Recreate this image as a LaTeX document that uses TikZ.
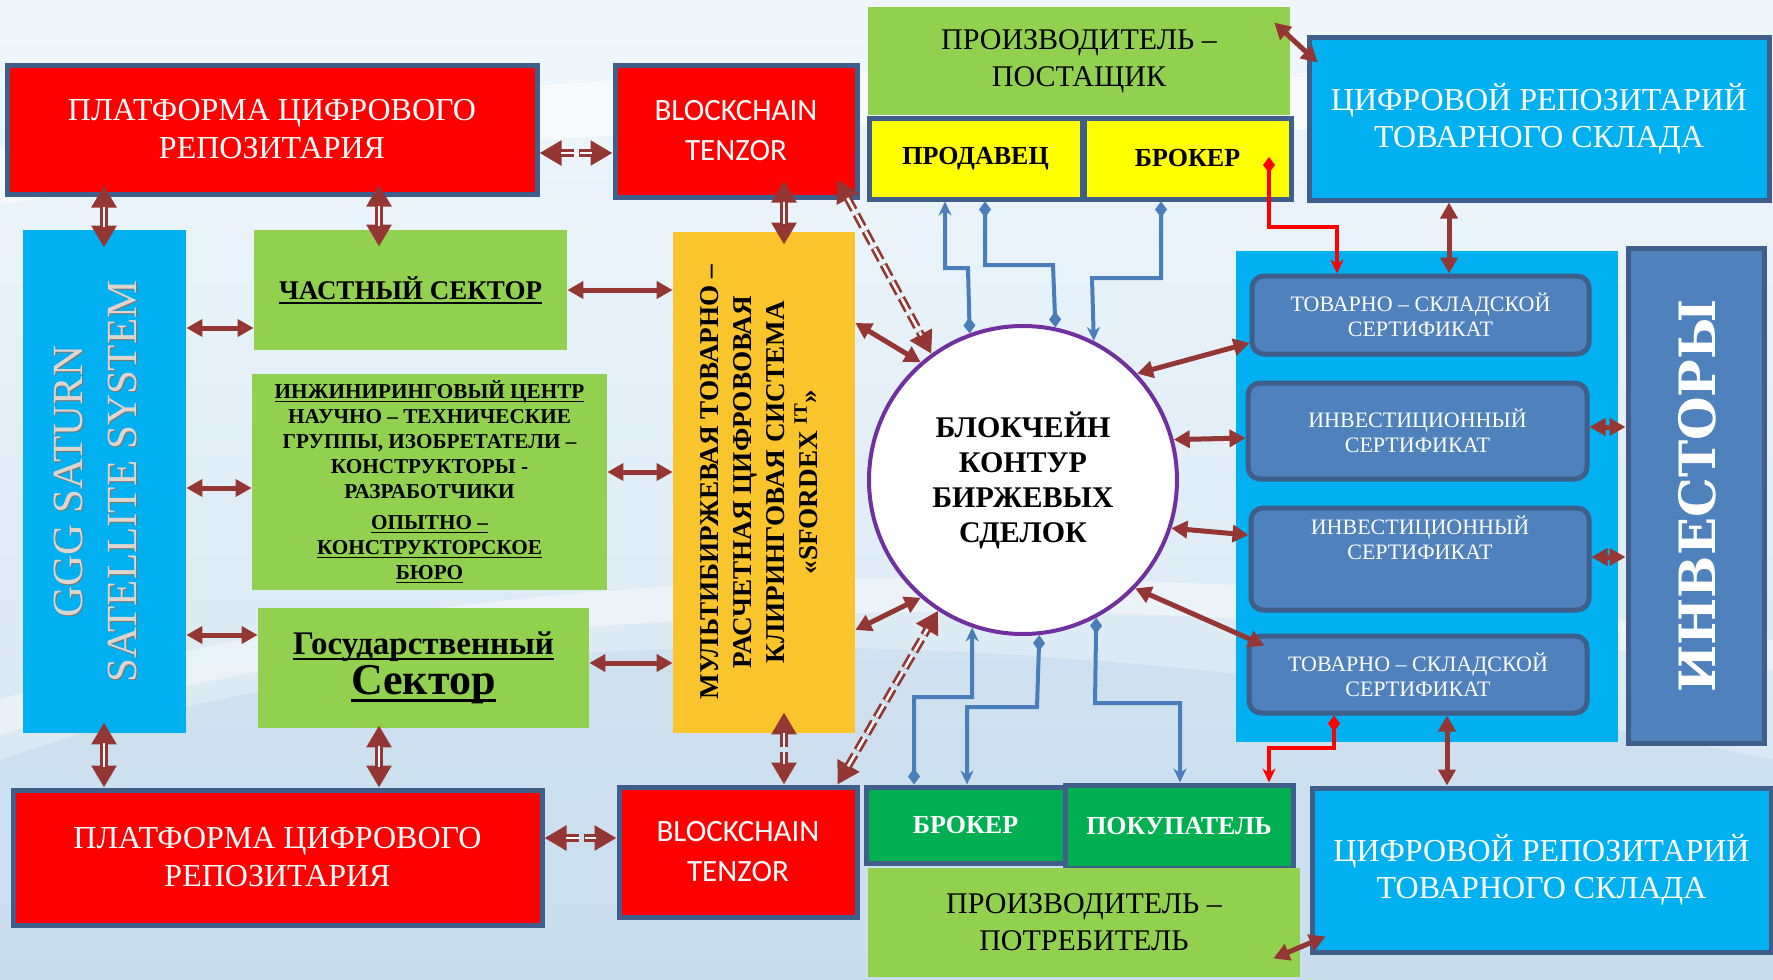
\documentclass[tikz,border=0pt]{standalone}
\usepackage{fontspec}
\setmainfont{Liberation Serif}
\newfontfamily\carl{Carlito}
\newfontfamily\slabf{DejaVu Serif}
\usetikzlibrary{arrows.meta,calc}
\definecolor{ac}{HTML}{943634}
\definecolor{redc}{HTML}{FF0000}
\definecolor{bord}{HTML}{3F5F8A}
\definecolor{skyc}{HTML}{00B0F0}
\definecolor{grc}{HTML}{92D050}
\definecolor{goldc}{HTML}{F9C42C}
\definecolor{yelc}{HTML}{FFFF00}
\definecolor{dgrc}{HTML}{00B050}
\definecolor{certc}{HTML}{4F81BD}
\definecolor{blc}{HTML}{4A7EBB}
\definecolor{purp}{HTML}{7030A0}
\definecolor{gggc}{HTML}{DDD5CE}
\definecolor{gggs}{HTML}{7F7770}
\definecolor{bgtop}{HTML}{F0F7FC}
\definecolor{bgbot}{HTML}{D3E4F1}
\definecolor{bgdark}{HTML}{B9D2E8}
\newcommand\myul[1]{\setbox0\hbox{#1}\rlap{\rule[-0.17em]{\wd0}{0.07em}}\box0}
\newcommand\dblar[3][]{\draw[dblo,#1] #2 -- #3; \draw[dbli,#1] #2 -- #3;}
\tikzset{
  dia/.tip={Diamond[length=8pt,width=6pt]},
  stl/.tip={Stealth[length=7pt,width=6.5pt]},
  box/.style={draw=bord, line width=2.5pt, inner sep=0pt, align=center},
  plain/.style={inner sep=0pt, align=center},
  cert/.style={box, rounded corners=6pt, fill=certc, text=white, font=\fontsize{11}{12.5}\selectfont},
  sarr/.style={draw=ac, line width=2.5pt, {Triangle[length=8pt,width=8.5pt]}-{Triangle[length=8pt,width=8.5pt]}},
  dblo/.style={draw=ac, line width=4pt, {Triangle[length=11pt,width=12pt]}-{Triangle[length=11pt,width=12pt]}},
  dbli/.style={draw=white, line width=1.3pt, shorten <=10.5pt, shorten >=10.5pt},
  dsh/.style={dash pattern=on 7pt off 2.5pt},
  bl/.style={draw=blc, line width=2pt},
  rd/.style={draw=redc, line width=2pt}
}
\begin{document}
\begin{tikzpicture}[x=0.5pt,y=-0.5pt]
\useasboundingbox (0,0) rectangle (1773,980);
% background
\shade[top color=bgtop, bottom color=bgbot] (0,0) rectangle (1773,980);
\fill[white, opacity=0.55] (0,150) .. controls (500,60) and (1200,40) .. (1773,120) -- (1773,170) .. controls (1200,95) and (500,115) .. (0,205) -- cycle;
\fill[bgdark, opacity=0.35] (0,980) -- (0,760) .. controls (400,620) and (1000,600) .. (1773,760) -- (1773,980) -- cycle;
\fill[white, opacity=0.4] (0,700) .. controls (450,560) and (1100,540) .. (1773,640) -- (1773,670) .. controls (1100,575) and (450,595) .. (0,735) -- cycle;

% left column
\node[box, fill=redc, minimum width=265pt, minimum height=64.5pt, text=white, font=\fontsize{16}{19}\selectfont] (plat1) at (272,129.5) {ПЛАТФОРМА ЦИФРОВОГО\\РЕПОЗИТАРИЯ};
\node[box, fill=redc, minimum width=121pt, minimum height=66pt, text=white, font=\carl\fontsize{15.5}{20}\selectfont] (bc1) at (736,131) {BLOCKCHAIN\\TENZOR};
\node[plain, fill=skyc, minimum width=81.5pt, minimum height=251.5pt] (ggg) at (104.5,481.5) {};
\node[plain, rotate=90, text=gggs, font=\fontsize{21.5}{27}\selectfont] (gggsh) at (96.5,482.5) {GGG SATURN\\SATELLITE SYSTEM};
\node[plain, rotate=90, text=gggc, font=\fontsize{21.5}{27}\selectfont] (gggt) at (95,481.5) {GGG SATURN\\SATELLITE SYSTEM};
\node[plain, fill=grc, minimum width=156.5pt, minimum height=60pt, font=\bfseries\fontsize{13.5}{16}\selectfont] (chast) at (410.5,290) {\myul{ЧАСТНЫЙ СЕКТОР}};
\node[plain, fill=grc, minimum width=177.5pt, minimum height=108pt, font=\bfseries\fontsize{10.6}{12.5}\selectfont] (eng) at (429.5,482) {\myul{ИНЖИНИРИНГОВЫЙ ЦЕНТР}\\НАУЧНО – ТЕХНИЧЕСКИЕ\\ГРУППЫ, ИЗОБРЕТАТЕЛИ –\\КОНСТРУКТОРЫ -\\РАЗРАБОТЧИКИ\\[3pt]\myul{ОПЫТНО –}\\\myul{КОНСТРУКТОРСКОЕ}\\\myul{БЮРО}};
\node[plain, fill=grc, minimum width=165.5pt, minimum height=60pt, font=\bfseries] (gos) at (423.5,668) {\fontsize{16.5}{19}\selectfont\myul{Государственный}\\[1pt]\fontsize{22}{24}\selectfont\myul{Сектор}};
\node[plain, fill=goldc, minimum width=91pt, minimum height=250.5pt] (sfx) at (764,482.5) {};
\node[plain, rotate=90, font=\bfseries\fontsize{13.6}{16.5}\selectfont] (sfxt) at (759,482) {МУЛЬТИБИРЖЕВАЯ ТОВАРНО –\\РАСЧЕТНАЯ ЦИФРОВОВАЯ\\КЛИРИНГОВАЯ СИСТЕМА\\«SFORDEX \textsuperscript{IT}»};
\node[box, fill=redc, minimum width=264.5pt, minimum height=67.5pt, text=white, font=\fontsize{16}{19}\selectfont] (plat2) at (277.5,857.5) {ПЛАТФОРМА ЦИФРОВОГО\\РЕПОЗИТАРИЯ};
\node[box, fill=redc, minimum width=119pt, minimum height=65pt, text=white, font=\carl\fontsize{15.5}{20}\selectfont] (bc2) at (738,852) {BLOCKCHAIN\\TENZOR};

% top right
\node[plain, fill=grc, minimum width=211pt, minimum height=54pt, font=\fontsize{15}{18.5}\selectfont] (prod) at (1079,61) {ПРОИЗВОДИТЕЛЬ –\\ПОСТАЩИК};
\node[box, fill=yelc, minimum width=106.5pt, minimum height=40.5pt, font=\bfseries\fontsize{13}{15}\selectfont] (seller) at (975.5,158.5) {ПРОДАВЕЦ};
\node[box, fill=yelc, minimum width=103.5pt, minimum height=40.5pt, font=\bfseries\fontsize{13}{15}\selectfont] (brok1) at (1187.5,158.5) {БРОКЕР};
\node[box, fill=skyc, minimum width=230pt, minimum height=81.5pt, text=white, font=\fontsize{16}{18.5}\selectfont] (repo1) at (1539,118.5) {ЦИФРОВОЙ РЕПОЗИТАРИЙ\\ТОВАРНОГО СКЛАДА};

% right side
\node[plain, fill=skyc, minimum width=191pt, minimum height=245.5pt] (cont) at (1427,496.5) {};
\node[box, fill=certc, minimum width=68pt, minimum height=247.5pt] (inv) at (1696,495.5) {};
\node[plain, rotate=90, text=white, font=\slabf\bfseries\fontsize{25}{25}\selectfont] (invt) at (1697,496) {ИНВЕСТОРЫ};
\node[cert, minimum width=168.5pt, minimum height=39pt] (c1) at (1420.5,315) {ТОВАРНО – СКЛАДСКОЙ\\СЕРТИФИКАТ};
\node[cert, minimum width=169.5pt, minimum height=48pt] (c2) at (1417.5,431) {ИНВЕСТИЦИОННЫЙ\\СЕРТИФИКАТ};
\node[cert, minimum width=169pt, minimum height=51pt] (c3) at (1420,559) {ИНВЕСТИЦИОННЫЙ\\СЕРТИФИКАТ\\[9pt]};
\node[cert, minimum width=169pt, minimum height=38.5pt] (c4) at (1418,674.5) {ТОВАРНО – СКЛАДСКОЙ\\СЕРТИФИКАТ};

% bottom right
\node[box, fill=dgrc, minimum width=99.5pt, minimum height=38pt, text=white, font=\bfseries\fontsize{13}{15}\selectfont] (brok2) at (965.5,825) {БРОКЕР};
\node[box, fill=dgrc, minimum width=114pt, minimum height=41.5pt, text=white, font=\bfseries\fontsize{13}{15}\selectfont] (buyer) at (1179,826.5) {ПОКУПАТЕЛЬ};
\node[plain, fill=grc, minimum width=216pt, minimum height=54.5pt, font=\fontsize{15}{18.5}\selectfont] (cons) at (1084,922.5) {ПРОИЗВОДИТЕЛЬ –\\ПОТРЕБИТЕЛЬ};
\node[box, fill=skyc, minimum width=229.5pt, minimum height=82pt, text=white, font=\fontsize{16}{18.5}\selectfont] (repo2) at (1541.5,870) {ЦИФРОВОЙ РЕПОЗИТАРИЙ\\ТОВАРНОГО СКЛАДА};

% circle
\node[circle, draw=purp, line width=2pt, fill=white, minimum size=154pt, inner sep=0pt, align=center, font=\bfseries\fontsize{15}{17.5}\selectfont] (circ) at (1023,480) {БЛОКЧЕЙН\\КОНТУР\\БИРЖЕВЫХ\\СДЕЛОК};

% blue connectors
\draw[bl, {dia}-{stl}] (circ.110.9) -- (968,268) -- (945,268) -- (945,0 |- seller.south);
\draw[bl, {dia}-{dia}] (985,0 |- seller.south) -- (985,265) -- (1053,265) -- (circ.78.8);
\draw[bl, {dia}-{stl}] (1161,0 |- brok1.south) -- (1161,278) -- (1092,278) -- (circ.63.4);
\draw[bl, {stl}-{dia}] (circ.-109.3) -- (972,697) -- (914,697) -- (914,0 |- brok2.north);
\draw[bl, {dia}-{stl}] (circ.-84.8) -- (1037,707) -- (967,707) -- (967,0 |- brok2.north);
\draw[bl, {dia}-{stl}] (circ.-62.1) -- (1095,703) -- (1180,703) -- (1180,0 |- buyer.north);

% red connectors
\coordinate (r1s) at (1269,157);
\draw[rd, {dia}-{stl}] (r1s) -- (1269,227) -- (1337,227) -- (1337,0 |- c1.north);
\draw[rd, {dia}-{stl}] (1334,0 |- c4.south) -- (1334,748) -- (1269,748) -- (1269,0 |- buyer.north);

% double arrows
\dblar{($(104,0 |- plat1.south)+(0,-11)$)}{($(104,0 |- ggg.north)+(0,18)$)}
\dblar{($(379,0 |- plat1.south)+(0,-12)$)}{($(379,0 |- chast.north)+(0,17)$)}
\dblar[dsh]{(plat1.east |- 0,153)}{(bc1.west |- 0,153)}
\dblar{($(784,0 |- bc1.south)+(0,-19)$)}{($(784,0 |- sfx.north)+(0,13)$)}
\dblar[dsh]{([shift={(-11pt,10pt)}]bc1.south east)}{(circ.126)}
\dblar{($(104,0 |- ggg.south)+(0,-11)$)}{(104,0 |- plat2.north)}
\dblar{($(379,0 |- gos.south)+(0,-3)$)}{(379,0 |- plat2.north)}
\dblar[dsh]{(plat2.east |- 0,838)}{(bc2.west |- 0,838)}
\dblar[dsh]{($(784,0 |- sfx.south)+(0,-21)$)}{(784,0 |- bc2.north)}
\dblar[dsh]{([xshift=-11pt]bc2.north east)}{(circ.-123)}

% single arrows
\draw[sarr] (chast.east) -- (sfx.west |- chast.east);
\draw[sarr] (ggg.east |- 0,328) -- (chast.west |- 0,328);
\draw[sarr] (ggg.east |- 0,488) -- (eng.west |- 0,488);
\draw[sarr] (eng.east |- 0,472) -- (sfx.west |- 0,472);
\draw[sarr] (ggg.east |- 0,635) -- (gos.west |- 0,635);
\draw[sarr] (gos.east |- 0,663) -- (sfx.west |- 0,663);
\draw[sarr] (sfx.east |- 0,323) -- (circ.131.5);
\draw[sarr] (sfx.east |- 0,630) -- (circ.-131.5);
\draw[sarr] (circ.43.6) -- (c1.west |- 0,343);
\draw[sarr] (circ.15.8) -- (c2.west |- 0,438);
\draw[sarr] (circ.-18.9) -- (c3.west |- 0,535);
\draw[sarr] (circ.-44.5) -- ([shift={(9pt,-6pt)}]c4.north west);
\draw[sarr] (c2.east |- 0,427) -- (inv.west |- 0,427);
\draw[sarr] (c3.east |- 0,557) -- (inv.west |- 0,557);
\draw[sarr] (1449,0 |- repo1.south) -- (1449,0 |- c1.north);
\draw[sarr] (1447,0 |- c4.south) -- (1447,0 |- repo2.north);
\draw[sarr] ([shift={(-8pt,-8pt)}]prod.north east) -- ([shift={(5.5pt,-14pt)}]repo1.north west);
\draw[sarr] ([shift={(-13.5pt,9.5pt)}]cons.south east) -- ([shift={(8pt,9pt)}]repo2.south west);
\end{tikzpicture}
\end{document}
